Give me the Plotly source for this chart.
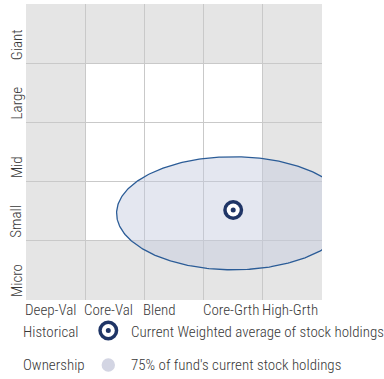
import numpy as np
import plotly.graph_objects as go

# Style box categories
value_growth = ["Deep-Val", "Core-Val", "Blend", "Core-Grth", "High-Grth"]
market_cap = ["Micro", "Small", "Mid", "Large", "Giant"]

# Current weighted average of stock holdings (style-box units)
weighted_avg_x = [3.50]
weighted_avg_y = [1.52]

# 75% ownership zone: centre and half-widths (style-box units)
zone_center = [3.50, 1.465]
zone_radius = [1.97, 0.955]

W, H = 384, 379
PLOT_L, PLOT_R, PLOT_T, PLOT_B = 26, 322, 4, 300

FONT = "Roboto Condensed, DejaVu Sans Condensed, sans-serif"
TEXT_COLOR = "#383838"
NAVY = "#1f3566"
GRAY_CELL = "#e5e5e5"
GRID = "#c9c9c9"


def px_x(x):
    return x / W


def px_y(y):
    return 1 - y / H


fig = go.Figure()

# Ownership zone outline built from its centre and radii
t = np.linspace(0, 2 * np.pi, 361)
ex = zone_center[0] + zone_radius[0] * np.cos(t)
ey = zone_center[1] + zone_radius[1] * np.sin(t)
fig.add_trace(go.Scatter(
    x=ex, y=ey, mode="lines", fill="toself",
    fillcolor="rgba(196,202,222,0.45)",
    line=dict(color="#2b5c97", width=1.3),
    hoverinfo="skip", showlegend=False,
))

# Weighted-average target marker: navy ring, white ring, navy dot
for size, color in [(20, NAVY), (13, "white"), (5, NAVY)]:
    fig.add_trace(go.Scatter(
        x=weighted_avg_x, y=weighted_avg_y, mode="markers",
        marker=dict(size=size, color=color, line=dict(width=0)),
        hoverinfo="skip", showlegend=False,
    ))

n = len(value_growth)
shapes = [
    # outer ring of style-box cells
    dict(type="rect", xref="x", yref="y", x0=0, x1=n, y0=0, y1=n,
         fillcolor=GRAY_CELL, line=dict(width=0), layer="below"),
    # inner 3x3 cells
    dict(type="rect", xref="x", yref="y", x0=1, x1=n - 1, y0=1, y1=n - 1,
         fillcolor="white", line=dict(width=0), layer="below"),
]

# Legend icons
lx, ly1, ly2 = 108.3, 330.5, 365
for r, color in [(10, NAVY), (6.5, "white"), (2.5, NAVY)]:
    shapes.append(dict(type="circle", xref="paper", yref="paper",
                       x0=px_x(lx - r), x1=px_x(lx + r),
                       y0=px_y(ly1 + r), y1=px_y(ly1 - r),
                       fillcolor=color, line=dict(width=0), layer="above"))
shapes.append(dict(type="circle", xref="paper", yref="paper",
                   x0=px_x(lx - 6.7), x1=px_x(lx + 6.7),
                   y0=px_y(ly2 + 6.7), y1=px_y(ly2 - 6.7),
                   fillcolor="#d3d5e3", line=dict(width=0), layer="above"))

annotations = []
fnt = dict(family=FONT, size=15, color=TEXT_COLOR, weight=300)

# Column labels, left-aligned at each column edge
for i, lab in enumerate(value_growth):
    annotations.append(dict(text=lab, xref="x", yref="paper", x=i, y=px_y(309.5),
                            xanchor="left", yanchor="middle", showarrow=False,
                            font=fnt, xshift=-3))

# Row labels, rotated and sitting on each row's lower edge
for j, lab in enumerate(market_cap):
    annotations.append(dict(text=lab, xref="paper", yref="y", x=px_x(16.5), y=j,
                            xanchor="center", yanchor="bottom", textangle=-90,
                            showarrow=False, font=fnt, yshift=1))

legend_rows = [
    ("Historical", "Current Weighted average of stock holdings", 331.5),
    ("Ownership", "75% of fund's current stock holdings", 364.5),
]
for left, right, yy in legend_rows:
    annotations.append(dict(text=left, xref="paper", yref="paper", x=px_x(21), y=px_y(yy),
                            xanchor="left", yanchor="middle", showarrow=False, font=fnt))
    annotations.append(dict(text=right, xref="paper", yref="paper", x=px_x(129), y=px_y(yy),
                            xanchor="left", yanchor="middle", showarrow=False, font=fnt))

axis_common = dict(showticklabels=False, ticks="", zeroline=False, showline=False,
                   showgrid=True, gridcolor=GRID, gridwidth=1,
                   tickmode="array", tickvals=[1, 2, 3, 4], fixedrange=True)

fig.update_layout(
    width=W, height=H,
    margin=dict(l=0, r=0, t=0, b=0),
    paper_bgcolor="white", plot_bgcolor="white",
    xaxis=dict(range=[0, n], domain=[PLOT_L / W, PLOT_R / W], **axis_common),
    yaxis=dict(range=[0, n], domain=[1 - PLOT_B / H, 1 - PLOT_T / H], **axis_common),
    shapes=shapes,
    annotations=annotations,
    showlegend=False,
)

fig.write_html("out.html")
